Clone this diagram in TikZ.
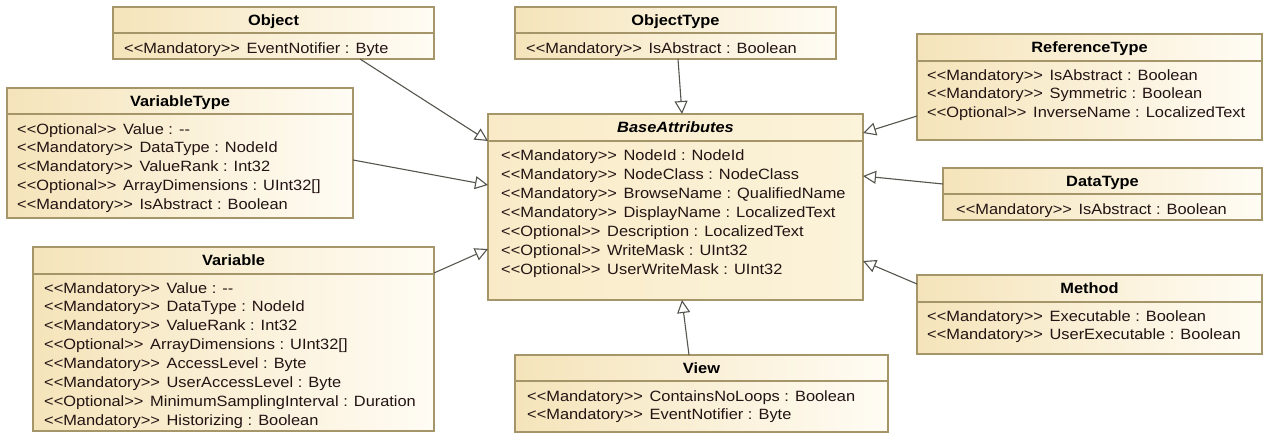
\documentclass[tikz,border=0pt]{standalone}
\usepackage{fontspec}
\setmainfont{Liberation Sans}[Ligatures=TeXOff, FakeStretch=1.1]
\usetikzlibrary{arrows.meta,calc,shadows}
\definecolor{clsborder}{RGB}{165,150,105}
\definecolor{clsleft}{RGB}{245,228,186}
\definecolor{clsright}{RGB}{255,252,244}
\definecolor{baseleft}{RGB}{249,235,200}
\definecolor{baseright}{RGB}{251,243,218}
\definecolor{conn}{RGB}{85,85,78}
\definecolor{txt}{RGB}{35,20,20}
\tikzset{
  cls/.style={draw=clsborder, line width=1.2pt, left color=clsleft, right color=clsright,
    inner sep=0pt, outer sep=0pt, anchor=north west,
    drop shadow={opacity=0.18, shadow xshift=1.3pt, shadow yshift=-1.3pt}},
  basecls/.style={cls, left color=baseleft, right color=baseright},
  divider/.style={draw=clsborder, line width=1.2pt},
  title/.style={anchor=base, inner sep=0pt, font=\fontsize{14.9}{18}\selectfont\bfseries, text=black},
  row/.style={anchor=base west, inner sep=0pt, font=\fontsize{14.9}{18}\selectfont, text=txt},
  gen/.style={draw=conn, line width=1.1pt, -{Triangle[open, length=13pt, width=13pt, fill=white]}}
}
\newcommand\stereo[1]{<<#1>>\hspace{0.45em}}
\newcommand\mkclass[9]{%
  \node[cls, minimum width=#4pt, minimum height=#5pt] (#1) at (#2,#3) {};
  \draw[divider] ($(#1.north west)+(0,#6)$) -- ($(#1.north east)+(0,#6)$);
  \node[title] at ($(#1.north)+(0,18)$) {#7};
  \foreach \rowtext [count=\i from 0] in {#8}
    \node[row] at ($(#1.north west)+(#9,{46+\i*18.9})$) {\rowtext};
}
\begin{document}
\begin{tikzpicture}[x=1pt,y=-1pt]
\useasboundingbox (0,0) rectangle (1263,434);

\mkclass{obj}{113}{7}{321}{52}{26}{Object}{\stereo{Mandatory}EventNotifier : Byte}{11}
\mkclass{vt}{7}{88}{346}{130}{26}{VariableType}{%
  \stereo{Optional}Value : --,
  \stereo{Mandatory}DataType : NodeId,
  \stereo{Mandatory}ValueRank : Int32,
  \stereo{Optional}ArrayDimensions : UInt32[],
  \stereo{Mandatory}IsAbstract : Boolean}{10}
\mkclass{var}{33}{247}{401}{184}{27}{Variable}{%
  \stereo{Mandatory}Value : --,
  \stereo{Mandatory}DataType : NodeId,
  \stereo{Mandatory}ValueRank : Int32,
  \stereo{Optional}ArrayDimensions : UInt32[],
  \stereo{Mandatory}AccessLevel : Byte,
  \stereo{Mandatory}UserAccessLevel : Byte,
  \stereo{Optional}MinimumSamplingInterval : Duration,
  \stereo{Mandatory}Historizing : Boolean}{11}
\mkclass{ot}{515}{7}{321}{52}{26}{ObjectType}{\stereo{Mandatory}IsAbstract : Boolean}{11}

% BaseAttributes
\node[basecls, minimum width=375pt, minimum height=186pt] (base) at (488,114) {};
\draw[divider] ($(base.north west)+(0,27)$) -- ($(base.north east)+(0,27)$);
\node[title] at ($(base.north)+(0,18)$) {\textit{BaseAttributes}};
\foreach \rowtext [count=\i from 0] in {%
  \stereo{Mandatory}NodeId : NodeId,
  \stereo{Mandatory}NodeClass : NodeClass,
  \stereo{Mandatory}BrowseName : QualifiedName,
  \stereo{Mandatory}DisplayName : LocalizedText,
  \stereo{Optional}Description : LocalizedText,
  \stereo{Optional}WriteMask : UInt32,
  \stereo{Optional}UserWriteMask : UInt32}
  \node[row] at ($(base.north west)+(13,{46+\i*19})$) {\rowtext};

\mkclass{rt}{917}{34}{345}{106}{27}{ReferenceType}{%
  \stereo{Mandatory}IsAbstract : Boolean,
  \stereo{Mandatory}Symmetric : Boolean,
  \stereo{Optional}InverseName : LocalizedText}{10}
\mkclass{dt}{943}{168}{319}{52}{26}{DataType}{\stereo{Mandatory}IsAbstract : Boolean}{13}
\mkclass{meth}{917}{275}{345}{79}{27}{Method}{%
  \stereo{Mandatory}Executable : Boolean,
  \stereo{Mandatory}UserExecutable : Boolean}{10}
\mkclass{view}{515}{355}{373}{77}{26}{View}{%
  \stereo{Mandatory}ContainsNoLoops : Boolean,
  \stereo{Mandatory}EventNotifier : Byte}{12}

% generalizations
\draw[gen] ($(obj.south west)+(247,0)$) -- ($(base.north west)+(0,27)$);
\draw[gen] ($(vt.north east)+(0,72)$) -- ($(base.north west)+(0,71)$);
\draw[gen] ($(var.north east)+(0,26)$) -- ($(base.north west)+(0,135)$);
\draw[gen] ($(ot.south west)+(163,0)$) -- ($(base.north west)+(194,0)$);
\draw[gen] ($(view.north west)+(174,0)$) -- ($(base.south west)+(194,0)$);
\draw[gen] ($(rt.north west)+(0,82)$) -- ($(base.north east)+(0,19)$);
\draw[gen] ($(dt.north west)+(0,16)$) -- ($(base.north east)+(0,62)$);
\draw[gen] ($(meth.north west)+(0,9)$) -- ($(base.north east)+(0,147)$);
\end{tikzpicture}
\end{document}
